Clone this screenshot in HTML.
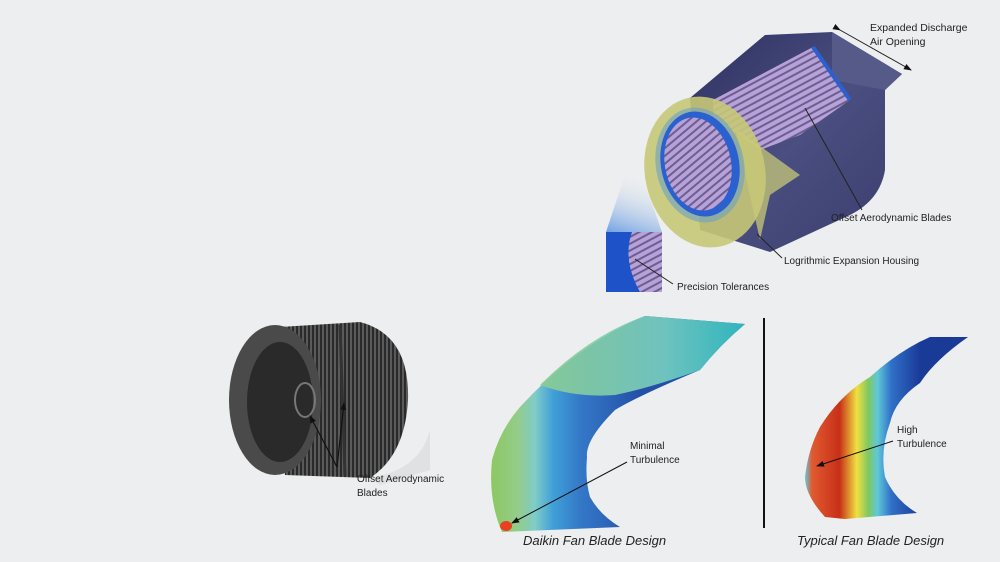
<!DOCTYPE html>
<html><head><meta charset="utf-8"><style>
html,body{margin:0;padding:0;background:#eceeef;}
svg{display:block;}
text{font-family:"Liberation Sans",sans-serif;fill:#222;}
</style></head><body>
<svg width="1000" height="562" viewBox="0 0 1000 562" xmlns="http://www.w3.org/2000/svg">
<defs>
<marker id="ah" markerWidth="8" markerHeight="8" refX="7" refY="4" orient="auto" markerUnits="userSpaceOnUse"><path d="M0,1 L8,4 L0,7 Z" fill="#111"/></marker>
<linearGradient id="body" x1="0" y1="0" x2="1" y2="1"><stop offset="0" stop-color="#2e3160"/><stop offset="0.5" stop-color="#4a4e80"/><stop offset="1" stop-color="#3a3d6c"/></linearGradient>
<linearGradient id="dk" x1="490" y1="0" x2="640" y2="0" gradientUnits="userSpaceOnUse"><stop offset="0" stop-color="#8cc860"/><stop offset="0.18" stop-color="#94cc88"/><stop offset="0.3" stop-color="#80ccc8"/><stop offset="0.42" stop-color="#40a0d8"/><stop offset="0.6" stop-color="#3478c8"/><stop offset="1" stop-color="#2450a8"/></linearGradient>
<linearGradient id="dktop" x1="0" y1="0" x2="1" y2="0"><stop offset="0" stop-color="#8ccc90"/><stop offset="0.6" stop-color="#78d0c0"/><stop offset="1" stop-color="#30c0c0"/></linearGradient>
<linearGradient id="ty" x1="805" y1="0" x2="920" y2="0" gradientUnits="userSpaceOnUse"><stop offset="0" stop-color="#60c8e0"/><stop offset="0.06" stop-color="#e05a30"/><stop offset="0.3" stop-color="#c83018"/><stop offset="0.45" stop-color="#f0e040"/><stop offset="0.55" stop-color="#80c860"/><stop offset="0.63" stop-color="#60c8d8"/><stop offset="0.75" stop-color="#3070c8"/><stop offset="1" stop-color="#1a3a98"/></linearGradient>
<linearGradient id="fade" x1="0" y1="1" x2="0.3" y2="0"><stop offset="0" stop-color="#3a80e0"/><stop offset="1" stop-color="#eceeef" stop-opacity="0"/></linearGradient>
<pattern id="blades" width="6" height="6" patternUnits="userSpaceOnUse" patternTransform="rotate(-28)"><rect width="6" height="6" fill="#b8a0d8"/><rect width="6" height="2" fill="#6a6090"/></pattern>
<pattern id="wblades" width="4" height="10" patternUnits="userSpaceOnUse"><rect width="4" height="10" fill="#5a5a5a"/><rect width="2" height="10" fill="#2a2a2a"/></pattern>
</defs>

<path d="M690,98 L765,35 L832,32 L902,74 L885,90 L885,170 Q880,200 850,215 L770,252 L700,230 Z" fill="url(#body)"/>
<path d="M832,32 L902,74 L885,90 L832,80 Z" fill="#565a88"/>
<path d="M713,100 L813,47 L850,100 L800,135 L760,150 L713,118 Z" fill="url(#blades)"/>
<path d="M813,47 L850,100" stroke="#2a60d0" stroke-width="4"/>
<ellipse cx="705" cy="172" rx="60" ry="76" transform="rotate(-12 705 172)" fill="#c8c878" opacity="0.9"/>
<path d="M735,128 L800,175 L770,195 L760,240 Z" fill="#c8c878" opacity="0.75"/>
<ellipse cx="700" cy="165" rx="44" ry="58" transform="rotate(-12 700 165)" fill="#6aa0c0" opacity="0.6"/>
<ellipse cx="700" cy="164" rx="39" ry="53" transform="rotate(-12 700 164)" fill="#2a60d0"/>
<ellipse cx="698" cy="164" rx="33" ry="47" transform="rotate(-12 698 164)" fill="url(#blades)"/>
<path d="M606,232 L625,175 L640,170 L662,232 Z" fill="url(#fade)" opacity="0.7"/>
<rect x="606" y="232" width="56" height="60" fill="url(#blades)"/>
<path d="M606,232 L632,232 Q622,260 640,292 L606,292 Z" fill="#1e52c8"/>
<text x="870" y="31" font-size="10.5">Expanded Discharge</text>
<text x="870" y="45" font-size="10.5">Air Opening</text>
<line x1="840" y1="30" x2="911" y2="70" stroke="#222" stroke-width="1" marker-end="url(#ah)" marker-start="url(#ah)"/>
<line x1="805" y1="108" x2="862" y2="210" stroke="#222" stroke-width="1"/>
<text x="831" y="221" font-size="10">Offset Aerodynamic Blades</text>
<line x1="757" y1="234" x2="782" y2="258" stroke="#222" stroke-width="1"/>
<text x="784" y="264" font-size="10">Logrithmic Expansion Housing</text>
<line x1="635" y1="259" x2="673" y2="284" stroke="#222" stroke-width="1"/>
<text x="677" y="290" font-size="10">Precision Tolerances</text>

<path d="M370,478 Q420,470 430,430 L430,470 L380,485 Z" fill="#d8d8d8" opacity="0.6"/>
<path d="M280,327 L360,322 Q410,335 408,400 Q405,455 370,478 L285,475 Z" fill="url(#wblades)"/>
<line x1="340" y1="325" x2="345" y2="476" stroke="#333" stroke-width="3"/>
<ellipse cx="275" cy="400" rx="46" ry="75" fill="#4a4a4a"/>
<ellipse cx="280" cy="402" rx="33" ry="60" fill="#2a2a2a"/>
<ellipse cx="305" cy="400" rx="10" ry="17" fill="none" stroke="#777" stroke-width="2"/>
<line x1="337" y1="467" x2="310" y2="416" stroke="#111" stroke-width="1.2" marker-end="url(#ah)"/>
<line x1="337" y1="467" x2="344" y2="403" stroke="#111" stroke-width="1.2" marker-end="url(#ah)"/>
<text x="357" y="482" font-size="10">Offset Aerodynamic</text>
<text x="357" y="496" font-size="10">Blades</text>

<path d="M645,316 L745,324 Q720,345 700,370 Q640,395 615,410 Q585,440 587,457 Q585,480 590,497 Q600,515 620,527 L502,532 Q488,500 492,460 Q500,430 520,407 Q545,380 570,360 Q610,330 645,316 Z" fill="url(#dk)"/>
<path d="M645,316 L745,324 Q720,345 700,370 Q650,388 615,395 Q575,398 540,385 Q590,335 645,316 Z" fill="url(#dktop)" opacity="0.9"/>
<ellipse cx="506" cy="526" rx="6" ry="5" fill="#e84020"/>
<line x1="627" y1="462" x2="512" y2="523" stroke="#111" stroke-width="1" marker-end="url(#ah)"/>
<text x="630" y="449" font-size="10">Minimal</text>
<text x="630" y="463" font-size="10">Turbulence</text>
<text x="523" y="545" font-size="13" font-style="italic">Daikin Fan Blade Design</text>

<line x1="764" y1="318" x2="764" y2="528" stroke="#111" stroke-width="2"/>

<path d="M930,337 L968,337 Q935,360 920,383 Q895,400 890,423 Q880,450 885,477 Q895,500 917,513 L845,519 L825,517 Q805,495 805,477 Q808,450 820,427 Q840,395 870,377 Q900,350 930,337 Z" fill="url(#ty)"/>
<line x1="893" y1="441" x2="817" y2="466" stroke="#111" stroke-width="1" marker-end="url(#ah)"/>
<text x="897" y="433" font-size="10">High</text>
<text x="897" y="447" font-size="10">Turbulence</text>
<text x="797" y="545" font-size="13" font-style="italic">Typical Fan Blade Design</text>
</svg>
</body></html>
